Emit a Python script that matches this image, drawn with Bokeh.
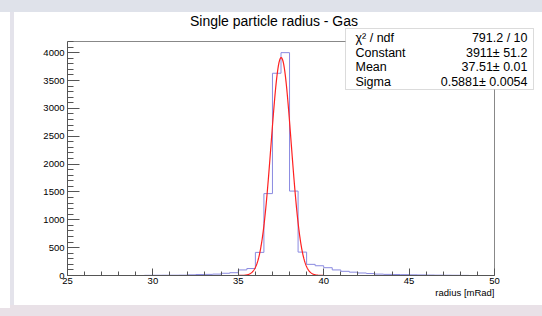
import numpy as np
from bokeh.plotting import figure
from bokeh.models import Range1d, SingleIntervalTicker, Label, BoxAnnotation
from bokeh.embed import file_html
from bokeh.resources import INLINE

# ---- data ----
bin_low = 25.0
bin_width = 0.5
counts = [0, 0, 0, 0, 0, 0, 0, 0, 0, 3,      # 25.0 - 29.5
          4, 5, 5, 6, 12, 18, 20, 25, 40, 50,  # 30.0 - 34.5
          100, 125, 415, 1470, 3630, 4000, 1515, 420, 200, 175,  # 35.0 - 39.5
          140, 100, 75, 60, 45, 35, 25, 20, 18, 15,  # 40.0 - 44.5
          12, 10, 8, 6, 5, 4, 2, 0, 0, 0]      # 45.0 - 49.5
fit_constant = 3911.0
fit_mean = 37.51
fit_sigma = 0.5881
fit_range = (34.8, 40.7)

x_min, x_max = 25.0, 50.0
y_min, y_max = 0.0, 4200.0

title_text = "Single particle radius - Gas"
x_label = "radius [mRad]"
stats_names = ["\u03c7\u00b2 / ndf", "Constant", "Mean", "Sigma"]
stats_values = ["791.2 / 10", "3911\u00b1 51.2", "37.51\u00b1 0.01", "0.5881\u00b1 0.0054"]

FONT = "Liberation Sans"

# ---- layout (pixels) ----
W, H = 542, 316
ax_left, ax_right, ax_top, ax_bottom = 67, 494, 41, 275
# the frame spans to the canvas top/right edge so the stats box and title can sit there
x_end = x_max + (x_max - x_min) * (W - ax_right) / (ax_right - ax_left)
y_end = y_max * (ax_bottom - 0) / (ax_bottom - ax_top)

p = figure(width=W, height=H, output_backend="svg", toolbar_location=None,
           x_range=Range1d(x_min, x_end), y_range=Range1d(y_min, y_end),
           min_border_left=ax_left, min_border_right=0, min_border_top=0,
           min_border_bottom=H - ax_bottom)
p.background_fill_color = None
p.border_fill_color = None
p.outline_line_color = None
p.xgrid.visible = False
p.ygrid.visible = False
p.styles = {
    "background": (
        "linear-gradient(#dfe2ea,#dfe2ea) 0 0 / 100% 12px no-repeat, "
        "linear-gradient(#e4e3eb,#e4e3eb) 10px 12px / 4px 293px no-repeat, "
        "linear-gradient(#e9e1e7,#e9e1e7) 10px 305px / 532px 11px no-repeat, "
        "linear-gradient(#e9e1e7,#e9e1e7) 0 308px / 10px 8px no-repeat, "
        "#ffffff"
    )
}

p.xaxis.ticker = SingleIntervalTicker(interval=5, num_minor_ticks=5)
p.yaxis.ticker = SingleIntervalTicker(interval=500, num_minor_ticks=5)
p.xaxis.bounds = (x_min, x_max)
p.yaxis.bounds = (y_min, y_max)
for ax in (p.xaxis, p.yaxis):
    ax.axis_line_color = "#555555"
    ax.major_tick_line_color = "#555555"
    ax.minor_tick_line_color = "#555555"
    ax.major_tick_out = 0
    ax.minor_tick_out = 0
    ax.major_label_text_font = FONT
    ax.major_label_text_font_size = "9.5px"
    ax.major_label_text_color = "black"
p.xaxis.major_tick_in = 7
p.xaxis.minor_tick_in = 4
p.yaxis.major_tick_in = 12
p.yaxis.minor_tick_in = 6
p.xaxis.major_label_standoff = 2
p.yaxis.major_label_standoff = 3

# frame top / right edges
p.segment(x0=[x_min, x_max], y0=[y_max, y_min], x1=[x_max, x_max], y1=[y_max, y_max],
          line_color="#888888", line_width=1)

# histogram outline
edges = [bin_low + i * bin_width for i in range(len(counts) + 1)]
step_y = counts + [counts[-1]]
p.step(edges, step_y, mode="after", line_color="#8a8ae0", line_width=1)

# gaussian fit curve
xf = np.linspace(fit_range[0], fit_range[1], 300)
yf = fit_constant * np.exp(-0.5 * ((xf - fit_mean) / fit_sigma) ** 2)
p.line(xf, yf, line_color="#ff2020", line_width=1.2)

# title
p.add_layout(Label(x=273.5, y=20, x_units="canvas", y_units="canvas", text=title_text,
                   text_align="center", text_baseline="middle", text_font=FONT,
                   text_font_size="14px", text_color="black"))
# axis title (in the bottom panel, so it is not clipped)
p.add_layout(Label(x=ax_right, y=292, x_units="canvas", y_units="canvas", text=x_label,
                   text_align="right", text_baseline="middle", text_font=FONT,
                   text_font_size="9.5px", text_color="black"), "below")

# stats box
p.add_layout(BoxAnnotation(left=345, right=533, top=28, bottom=89,
                           left_units="canvas", right_units="canvas",
                           top_units="canvas", bottom_units="canvas",
                           fill_color="white", fill_alpha=1.0,
                           line_color="#888888", line_width=1, level="overlay"))
row_y = [37, 52, 66.5, 81]
for name, val, yy in zip(stats_names, stats_values, row_y):
    p.add_layout(Label(x=355, y=yy, x_units="canvas", y_units="canvas", text=name,
                       text_align="left", text_baseline="middle",
                       text_font=FONT, text_font_size="12.5px", text_color="black", level="overlay"))
    p.add_layout(Label(x=527, y=yy, x_units="canvas", y_units="canvas", text=val,
                       text_align="right", text_baseline="middle",
                       text_font=FONT, text_font_size="12.5px", text_color="black", level="overlay"))

open("out.html", "w").write(file_html(p, INLINE))
